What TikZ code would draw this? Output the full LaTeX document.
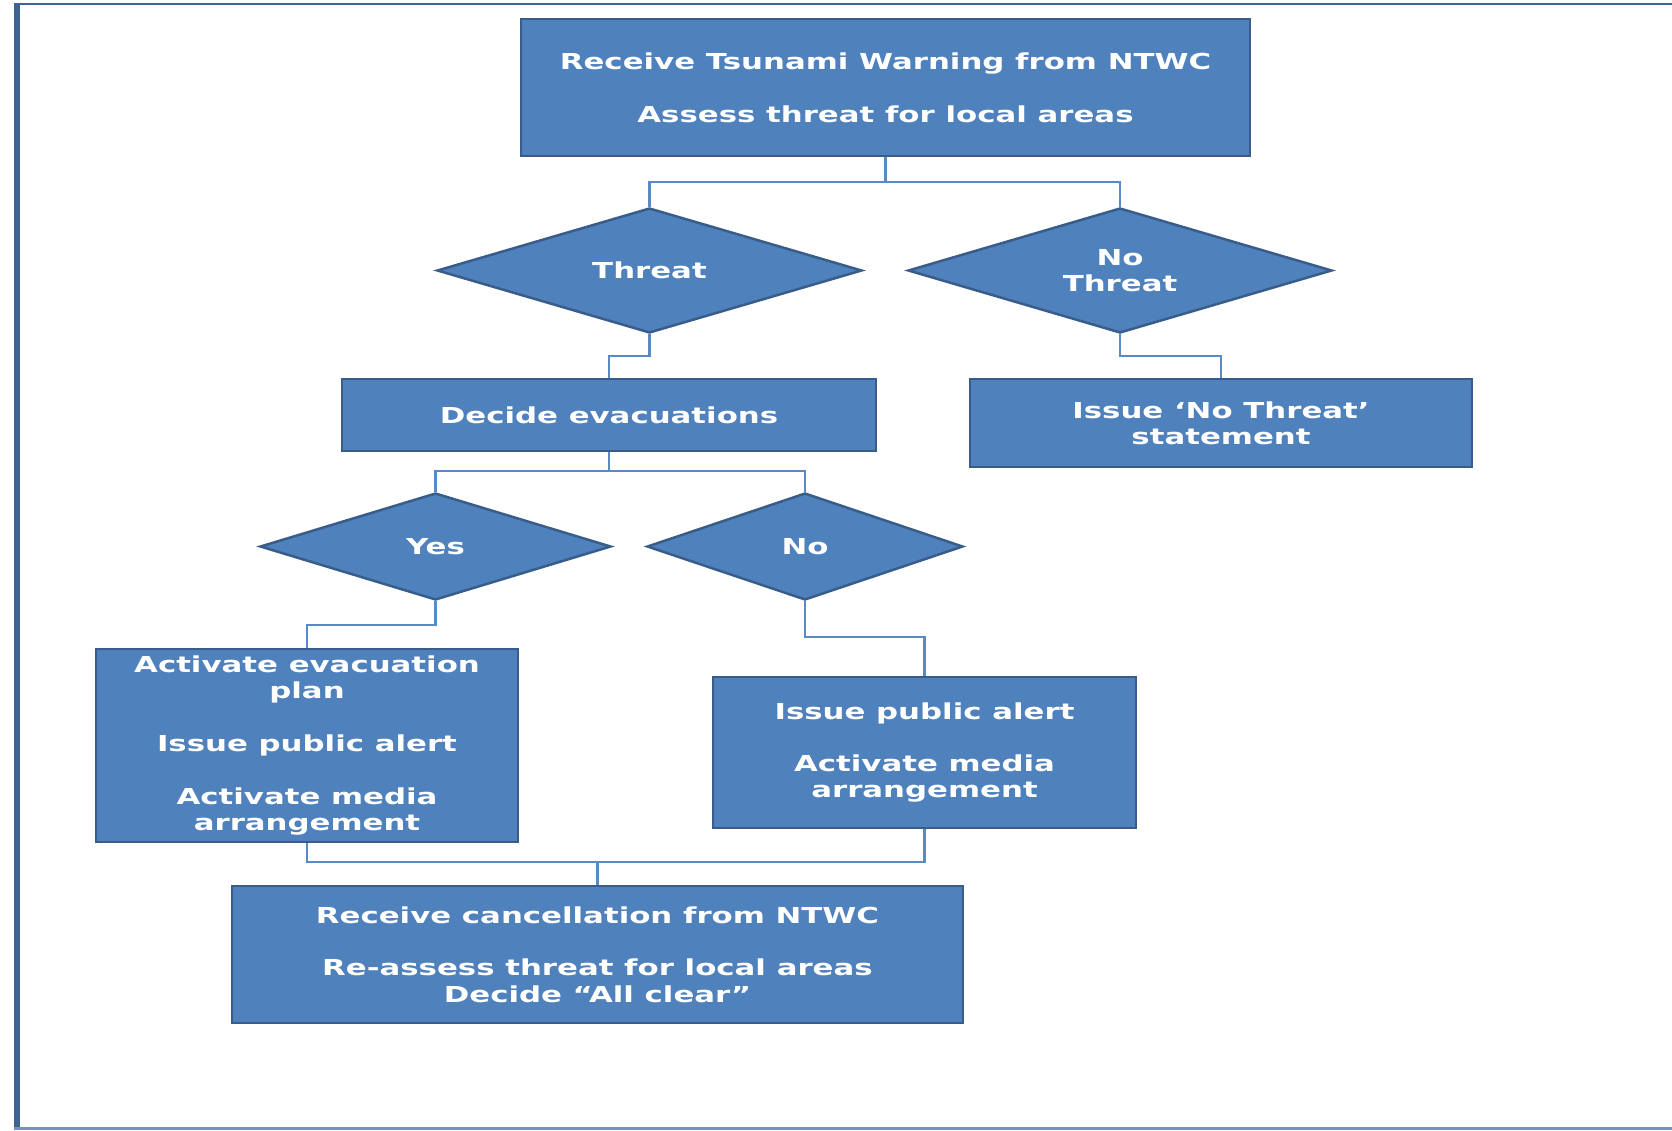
\documentclass[tikz,border=0pt]{standalone}
\usepackage{fontspec}
\setmainfont{DejaVu Sans}[FakeStretch=1.4]
\usetikzlibrary{shapes.geometric}
\definecolor{boxfill}{HTML}{4F81BD}
\definecolor{boxline}{HTML}{385D8A}
\definecolor{conn}{HTML}{5A8AC6}
\definecolor{frame}{HTML}{3E6496}
\tikzset{
  stepbox/.style={rectangle, draw=boxline, line width=2.5pt, fill=boxfill, text=white,
    font=\fontsize{22}{26.3}\selectfont\bfseries, align=center, inner sep=0pt},
  decision/.style={diamond, draw=boxline, line width=2.5pt, fill=boxfill, text=white,
    font=\fontsize{22}{26.3}\selectfont\bfseries, align=center, inner sep=0pt},
  link/.style={draw=conn, line width=2.5pt}
}
\begin{document}
\begin{tikzpicture}[x=1pt,y=-1pt]
\useasboundingbox (0,0) rectangle (1672,1130);
% frame
\draw[frame, line width=6pt] (17,4) -- (17,1130);
\draw[frame, line width=2.5pt] (14,4) -- (1672,4);
\draw[frame!70, line width=3pt] (14,1128) -- (1672,1128);

% nodes
\node[stepbox, minimum width=729pt, minimum height=137pt] (top) at (885.5,87.5)
  {Receive Tsunami Warning from NTWC\\[26.3pt]Assess threat for local areas};
\node[decision, minimum width=425pt, minimum height=125pt, aspect=3.4] (threat) at (649.5,270.5) {Threat};
\node[decision, minimum width=424pt, minimum height=125pt, aspect=3.4] (nothreat) at (1120,270.5) {No\\Threat};
\node[stepbox, minimum width=534pt, minimum height=72pt] (decide) at (609,415) {Decide evacuations};
\node[stepbox, minimum width=502pt, minimum height=88pt] (issueno) at (1221,423)
  {Issue `No Threat'\\statement};
\node[decision, minimum width=351pt, minimum height=107pt, aspect=3.3] (yes) at (435.5,546.5) {Yes};
\node[decision, minimum width=316pt, minimum height=107pt, aspect=2.95] (no) at (805,546.5) {No};
\node[stepbox, minimum width=422pt, minimum height=193pt] (activate) at (307,745.5)
  {Activate evacuation\\plan\\[26.3pt]Issue public alert\\[26.3pt]Activate media\\arrangement};
\node[stepbox, minimum width=423pt, minimum height=151pt] (issuepub) at (924.5,752.5)
  {Issue public alert\\[26.3pt]Activate media\\arrangement};
\node[stepbox, minimum width=731pt, minimum height=137pt] (cancel) at (597.5,954.5)
  {Receive cancellation from NTWC\\[26.3pt]Re-assess threat for local areas\\Decide ``All clear''};

% connectors
\coordinate (j1) at (885.5,182);
\draw[link] (top.south) -- (j1);
\draw[link] (j1) -| (threat.north);
\draw[link] (j1) -| (nothreat.north);
\draw[link] (threat.south) |- (609,356) -- (decide.north);
\draw[link] (nothreat.south) |- (1221,356) -- (issueno.north);
\coordinate (j2) at (609,471);
\draw[link] (decide.south) -- (j2);
\draw[link] (j2) -| (yes.north);
\draw[link] (j2) -| (no.north);
\draw[link] (yes.south) |- (307,625) -- (activate.north);
\draw[link] (no.south) |- (924.5,637) -- (issuepub.north);
\coordinate (j3) at (597.5,862);
\draw[link] (activate.south) |- (j3);
\draw[link] (issuepub.south) |- (j3);
\draw[link] (j3) -- (cancel.north);
\end{tikzpicture}
\end{document}
